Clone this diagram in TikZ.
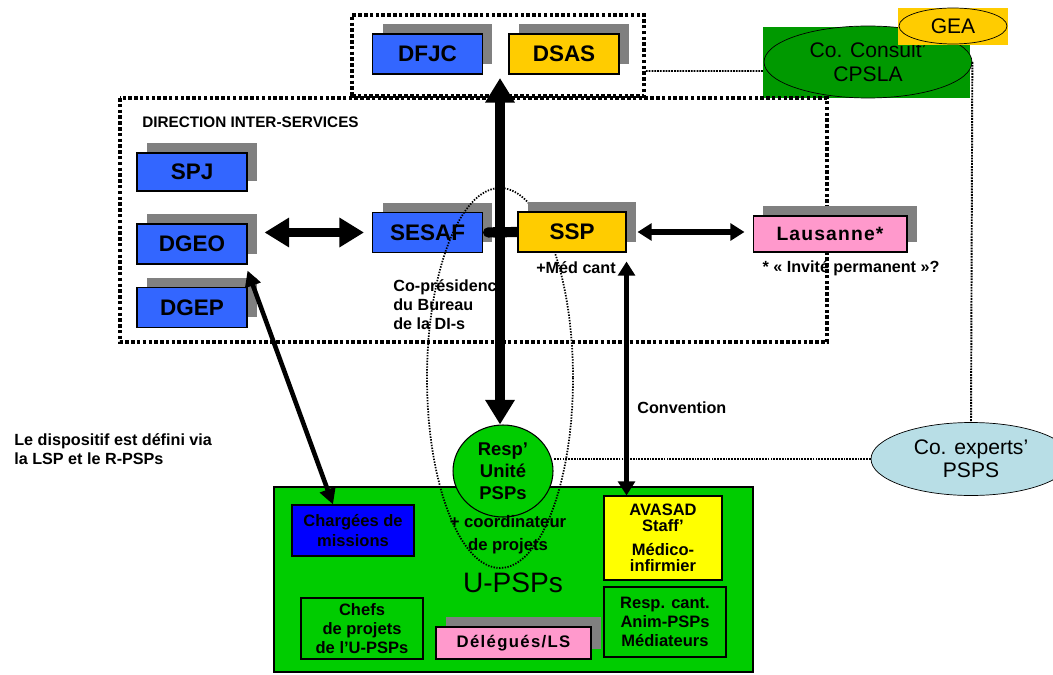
\documentclass[tikz,border=0pt]{standalone}
\usepackage{fontspec}
\setmainfont{Liberation Sans}
\usepackage{tikz}
\usetikzlibrary{shapes.geometric, shadows, arrows.meta}
\definecolor{dirblue}{HTML}{3366FF}
\definecolor{dirgold}{HTML}{FFCC00}
\definecolor{shadowgray}{HTML}{808080}
\definecolor{cityrose}{HTML}{FF99CC}
\definecolor{unitgreen}{HTML}{00CC00}
\definecolor{consgreen}{HTML}{009900}
\definecolor{avayellow}{HTML}{FFFF00}
\definecolor{expertblue}{HTML}{B8DEE6}
\definecolor{chargeblue}{HTML}{0000FF}

\begin{document}
\begin{tikzpicture}[x=0.02cm, y=-0.02cm,
        service/.style={draw, line width=0.6pt, minimum width=2.2cm, minimum height=0.8cm, inner sep=1pt, font=\bfseries\fontsize{12.8}{14}\selectfont, drop shadow={shadow xshift=0.2cm, shadow yshift=0.2cm, fill=shadowgray, opacity=1}},
        unitbox/.style={draw, line width=0.6pt, align=center, inner sep=1pt, font=\bfseries\fontsize{9.4}{11}\selectfont},
        note/.style={font=\bfseries\fontsize{9.2}{10.8}\selectfont, align=left, inner sep=0pt},
        dotframe/.style={line width=2.2pt, dash pattern=on 2pt off 1.3pt},
        dotlink/.style={line width=1.1pt, dash pattern=on 1pt off 0.6pt},
        dotring/.style={line width=1pt, dash pattern=on 0.8pt off 0.8pt},
        bigarrow/.style={line width=5.3pt, {Triangle[width=16pt,length=14pt]}-{Triangle[width=16pt,length=14pt]}},
        midarrow/.style={line width=3pt, {Triangle[width=9.5pt,length=8pt]}-{Triangle[width=9.5pt,length=8pt]}},
        chargearrow/.style={line width=2.6pt, {Triangle[width=9pt,length=9pt]}-{Triangle[width=9pt,length=9pt]}}]
        \useasboundingbox (0,0) rectangle (1053,675);
        \draw[fill=consgreen, draw=none] (763,27) rectangle (970,98);
        \node[ellipse, draw, fill=consgreen, minimum width=4.16cm, minimum height=1.44cm, inner sep=0pt, align=center, font=\fontsize{12}{14}\selectfont] (cpsla) at (868,62) {Co. Consult’\\CPSLA};
        \draw[fill=dirgold, draw=none] (898,8) rectangle (1008,45);
        \node[ellipse, draw, fill=dirgold, minimum width=2.16cm, minimum height=0.72cm, inner sep=0pt, font=\fontsize{12}{14}\selectfont] (gea) at (953,26) {GEA};
        \node[draw, dotframe, minimum width=5.84cm, minimum height=1.62cm] (topframe) at (498,55.5) {};
        \draw[dotframe] (120,98) rectangle (827,342);
        \node[service, fill=dirblue] (dfjc) at (427.5,54) {DFJC};
        \node[service, fill=dirgold] (dsas) at (564,54) {DSAS};
        \node[anchor=west, font=\bfseries\fontsize{8.7}{10}\selectfont, inner sep=0pt] (dis) at (142,122) {DIRECTION INTER-SERVICES};
        \node[service, fill=dirblue, minimum height=0.76cm] (spj) at (192,172) {SPJ};
        \node[service, fill=dirblue] (dgeo) at (192,244) {DGEO};
        \node[service, fill=dirblue] (dgep) at (192,307.5) {DGEP};
        \node[service, fill=dirblue] (sesaf) at (427.5,232.5) {SESAF};
        \node[note, anchor=west] (copres) at (393,305) {Co-présidence\\du Bureau\\de la DI-s};
        \node[note] (medcant) at (576,268) {+Méd cant};
        \node[note] (invite) at (851,268) {* « Invité permanent »?};
        \node[note, anchor=west] (conv) at (637,408) {Convention};
        \node[note, anchor=west] (lsp) at (14,449.5) {Le dispositif est défini via\\la LSP et le R-PSPs};
        \draw[fill=unitgreen, line width=0.6pt] (274,487) rectangle (753,672);
        \node[unitbox, fill=chargeblue, minimum width=2.44cm, minimum height=1.02cm] (charg) at (353,530.5) {Chargées de\\missions};
        \node[ellipse, draw, fill=unitgreen, line width=0.6pt, minimum width=2cm, minimum height=1.84cm, inner sep=0pt, align=center, font=\bfseries\fontsize{10.5}{12.6}\selectfont] (resp) at (503,471) {Resp’\\Unité\\PSPs};
        \node[note, align=center, font=\bfseries\fontsize{9.5}{13}\selectfont] (coord) at (508,534.5) {+ coordinateur\\de projets};
        \node[font=\fontsize{16}{18}\selectfont] (upsps) at (513,583) {U-PSPs};
        \node[unitbox, fill=avayellow, minimum width=2.36cm, minimum height=1.68cm, font=\bfseries\fontsize{9.4}{9}\selectfont] (avasad) at (663,538) {AVASAD\\Staff’\\[5pt]Médico-\\infirmier};
        \node[unitbox, fill=unitgreen, minimum width=2.44cm, minimum height=1.4cm] (respc) at (665,622) {Resp. cant.\\Anim-PSPs\\Médiateurs};
        \node[unitbox, fill=unitgreen, minimum width=2.44cm, minimum height=1.22cm] (chefs) at (362,628.5) {Chefs\\de projets\\de l’U-PSPs};
        \node[service, fill=cityrose, minimum width=3.1cm, minimum height=0.64cm, font=\bfseries\fontsize{9.5}{11}\selectfont\addfontfeature{LetterSpace=8}] (deleg) at (513.5,643) {Délégués/LS};
        \draw[dotring] (500,378) ellipse [x radius=73, y radius=190];
        \node[service, fill=dirgold, minimum width=2.16cm] (ssp) at (572,232) {SSP};
        \node[service, fill=cityrose, minimum width=3.08cm, minimum height=0.72cm, font=\bfseries\fontsize{11}{13}\selectfont\addfontfeature{LetterSpace=6}] (laus) at (830,234) {Lausanne*};
        \node[ellipse, draw, fill=expertblue, minimum width=4cm, minimum height=1.46cm, inner sep=0pt, align=center, font=\fontsize{12}{13}\selectfont] (experts) at (971,459) {Co. experts’\\PSPS};
        \draw[dotlink] ([yshift=-0.31cm]topframe.east) -- ([yshift=-0.18cm]cpsla.west);
        \draw[dotlink] (cpsla.east) -- (experts.north);
        \draw[dotlink] (experts.west) -- (experts.west -| resp.east);
        \coordinate (tip) at (500,78);
        \draw[bigarrow] (resp.north -| tip) -- (tip);
        \draw[bigarrow] ([xshift=0.34cm]dgeo.east |- sesaf.west) -- ([xshift=-0.16cm]sesaf.west);
        \draw[line width=5.8pt, {Round Cap[]}-] (sesaf.east) -- (ssp.west);
        \draw[midarrow] ([xshift=0.22cm]ssp.east) -- ([xshift=-0.16cm]laus.west |- ssp.east);
        \draw[midarrow] ([yshift=-0.18cm]ssp.south east) -- (ssp.south east |- avasad.north);
        \draw[chargearrow] ([yshift=-0.12cm]dgeo.south east) -- ([xshift=-0.4cm]charg.north);
\end{tikzpicture}
\end{document}
